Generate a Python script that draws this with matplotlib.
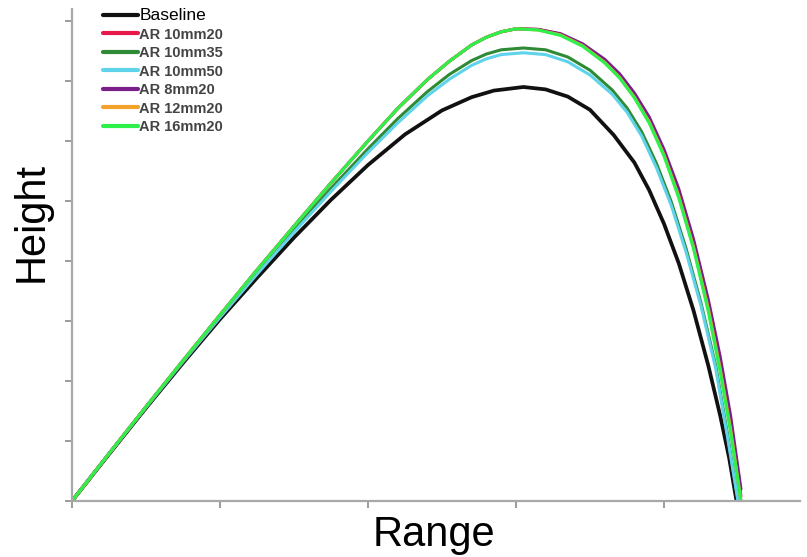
import matplotlib
matplotlib.use("Agg")
import matplotlib.pyplot as plt

plt.rcParams['font.family'] = ['Liberation Sans', 'DejaVu Sans']

# series labels and colours
labels = ['Baseline', 'AR 10mm20', 'AR 10mm35', 'AR 10mm50',
          'AR 8mm20', 'AR 12mm20', 'AR 16mm20']
colors = ['#111111', '#e8194a', '#2f8a35', '#5fd3ea',
          '#7a1f8a', '#f2a22a', '#2ef04a']

# trajectories (range, height); tick spacing = 1 unit
base_x = [0, 0.25, 0.5, 0.75, 1.0, 1.25, 1.5, 1.75, 2.0, 2.25, 2.5, 2.7, 2.85, 3.05,
          3.2, 3.35, 3.5, 3.66, 3.8, 3.9, 4.0, 4.1, 4.2, 4.3, 4.38, 4.44, 4.49]
base_y = [0, 0.78, 1.55, 2.30, 3.03, 3.72, 4.39, 5.02, 5.60, 6.11, 6.51, 6.73, 6.84, 6.90,
          6.86, 6.74, 6.52, 6.10, 5.64, 5.18, 4.62, 3.96, 3.17, 2.25, 1.42, 0.72, 0]

mid_x = [0, 0.25, 0.5, 0.75, 1.0, 1.25, 1.5, 1.75, 2.0, 2.2, 2.4, 2.55, 2.7, 2.8, 2.9, 3.05,
         3.2, 3.35, 3.5, 3.65, 3.75, 3.85, 3.95, 4.05, 4.15, 4.25, 4.35, 4.43, 4.5]
d35_y = [0, 0.79, 1.57, 2.33, 3.08, 3.81, 4.52, 5.21, 5.87, 6.37, 6.82, 7.11, 7.34, 7.45, 7.52, 7.55,
         7.52, 7.40, 7.18, 6.85, 6.55, 6.15, 5.62, 4.98, 4.20, 3.30, 2.25, 1.10, 0]
d50_y = [0, 0.79, 1.56, 2.32, 3.06, 3.78, 4.48, 5.16, 5.81, 6.30, 6.75, 7.03, 7.26, 7.37, 7.44, 7.47,
         7.44, 7.32, 7.10, 6.78, 6.48, 6.08, 5.55, 4.92, 4.14, 3.25, 2.20, 1.05, 0]

top_x = [0, 0.25, 0.5, 0.75, 1.0, 1.25, 1.5, 1.75, 2.0, 2.2, 2.4, 2.55, 2.7, 2.8, 2.9, 3.0,
         3.15, 3.3, 3.45, 3.6, 3.7, 3.8, 3.9, 4.0, 4.1, 4.2, 4.3, 4.38, 4.45, 4.52]
r20_y = [0, 0.79, 1.57, 2.34, 3.10, 3.85, 4.58, 5.30, 6.00, 6.54, 7.02, 7.33, 7.60, 7.73, 7.82, 7.87,
         7.86, 7.78, 7.60, 7.33, 7.08, 6.76, 6.35, 5.80, 5.12, 4.28, 3.25, 2.28, 1.30, 0.08]
p8_y = [0, 0.79, 1.57, 2.34, 3.10, 3.85, 4.58, 5.30, 6.00, 6.54, 7.02, 7.33, 7.60, 7.73, 7.82, 7.87,
        7.86, 7.79, 7.62, 7.36, 7.12, 6.80, 6.40, 5.86, 5.20, 4.36, 3.35, 2.40, 1.42, 0.20]
o12_y = [0, 0.79, 1.57, 2.34, 3.10, 3.85, 4.58, 5.30, 6.00, 6.54, 7.02, 7.33, 7.60, 7.73, 7.82, 7.87,
         7.85, 7.77, 7.59, 7.31, 7.06, 6.73, 6.32, 5.77, 5.08, 4.23, 3.20, 2.20, 1.20, 0]
g16_y = [0, 0.79, 1.57, 2.34, 3.10, 3.85, 4.58, 5.30, 6.00, 6.54, 7.02, 7.33, 7.60, 7.73, 7.82, 7.87,
         7.85, 7.76, 7.58, 7.30, 7.05, 6.72, 6.30, 5.75, 5.05, 4.20, 3.15, 2.15, 1.15, 0]

xs = [base_x, top_x, mid_x, mid_x, top_x, top_x, top_x]
ys = [base_y, r20_y, d35_y, d50_y, p8_y, o12_y, g16_y]

fig = plt.figure(figsize=(8.07, 5.57), dpi=100)
ax = fig.add_axes([72 / 807, 1 - 501 / 557, 728 / 807, 492 / 557])

for i in range(len(labels)):
    lw = 2.7 if i == 0 else 2.2
    ax.plot(xs[i], ys[i], color=colors[i], lw=lw, label=labels[i],
            solid_capstyle='round', solid_joinstyle='round')

ax.set_xlim(0, 728 / 148)
ax.set_ylim(0, 492 / 60)
ax.set_xticks([0, 1, 2, 3, 4])
ax.set_yticks([0, 1, 2, 3, 4, 5, 6, 7, 8])
ax.set_xticklabels([])
ax.set_yticklabels([])
ax.tick_params(direction='out', length=5, width=1.2, color='#8a8a8a')
for side in ['top', 'right']:
    ax.spines[side].set_visible(False)
for side in ['left', 'bottom']:
    ax.spines[side].set_color('#a8a8a8')
    ax.spines[side].set_linewidth(1.6)

fig.text(32 / 807, 1 - 222 / 557, 'Height', rotation=90, fontsize=30,
         ha='center', va='center')
fig.text(434 / 807, 1 - 535 / 557, 'Range', fontsize=30,
         ha='center', va='center')

leg = ax.legend(loc='upper left', bbox_to_anchor=(103 / 807, 1 - 8 / 557),
                bbox_transform=fig.transFigure, frameon=False, fontsize=10.5,
                handlelength=2.4, handletextpad=0.1, labelspacing=0.31,
                borderpad=0, borderaxespad=0)
for j, t in enumerate(leg.get_texts()):
    if j == 0:
        t.set_fontsize(12.5)
        t.set_color('black')
    else:
        t.set_color('#444444')
        t.set_fontweight('bold')
for h in leg.get_lines():
    h.set_linewidth(3.0)

plt.savefig('out.png', dpi=100)
